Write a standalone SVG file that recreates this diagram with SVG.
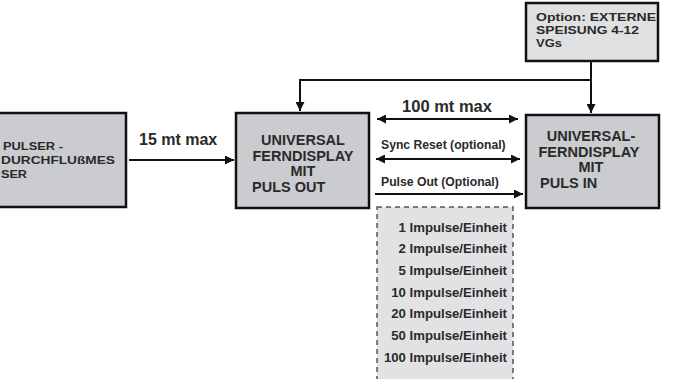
<svg xmlns="http://www.w3.org/2000/svg" width="691" height="379" viewBox="0 0 691 379">
<defs>
<marker id="ah" viewBox="0 0 10 10" refX="10" refY="5" markerWidth="9" markerHeight="9" markerUnits="userSpaceOnUse" orient="auto-start-reverse">
<path d="M0,0 L10,5 L0,10 z" fill="#111"/>
</marker>
<style>
.box{fill:#cbcccf;stroke:#111;stroke-width:2.5}
.opt{fill:#dfe0e2;stroke:#111;stroke-width:2.5}
.dash{fill:#e2e2e4;stroke:#555;stroke-width:1.5;stroke-dasharray:5,4}
text{font-family:"Liberation Sans",Arial,sans-serif;font-weight:bold;fill:#2a2a2a}
.bt{font-size:14.5px}
.sm{font-size:11.5px}
.ln{fill:none;stroke:#111;stroke-width:2}
.imp{font-size:13.2px;text-anchor:end}
</style>
</defs>
<rect width="691" height="379" fill="#ffffff"/>
<g id="pulser">
<rect class="box" x="-3" y="113" width="129" height="94"/>
<text class="sm" x="3" y="150" textLength="60" lengthAdjust="spacingAndGlyphs">PULSER -</text>
<text class="sm" x="1" y="164" textLength="114" lengthAdjust="spacingAndGlyphs">DURCHFLUßMES</text>
<text class="sm" x="1" y="178" textLength="26" lengthAdjust="spacingAndGlyphs">SER</text>
</g>
<g id="display-out">
<rect class="box" x="236" y="113" width="133" height="95"/>
<text class="bt" x="303" y="145" text-anchor="middle">UNIVERSAL</text>
<text class="bt" x="303" y="161" text-anchor="middle">FERNDISPLAY</text>
<text class="bt" x="303" y="176" text-anchor="middle">MIT</text>
<text class="bt" x="252" y="192">PULS OUT</text>
</g>
<g id="display-in">
<rect class="box" x="526" y="115" width="133" height="93"/>
<text class="bt" x="591" y="141" text-anchor="middle">UNIVERSAL-</text>
<text class="bt" x="589" y="157" text-anchor="middle">FERNDISPLAY</text>
<text class="bt" x="591" y="172" text-anchor="middle">MIT</text>
<text class="bt" x="540" y="188">PULS IN</text>
</g>
<g id="option">
<rect class="opt" x="526" y="3" width="132" height="58"/>
<text class="sm" x="536" y="21" textLength="120" lengthAdjust="spacingAndGlyphs">Option: EXTERNE</text>
<text class="sm" x="536" y="34" textLength="103" lengthAdjust="spacingAndGlyphs">SPEISUNG 4-12</text>
<text class="sm" x="536" y="47" textLength="26" lengthAdjust="spacingAndGlyphs">VGs</text>
</g>
<g id="impulse-options">
<rect class="dash" x="377" y="207" width="136" height="185"/>
<text class="imp" x="507" y="232">1 Impulse/Einheit</text>
<text class="imp" x="507" y="253">2 Impulse/Einheit</text>
<text class="imp" x="507" y="275">5 Impulse/Einheit</text>
<text class="imp" x="507" y="297">10 Impulse/Einheit</text>
<text class="imp" x="507" y="318">20 Impulse/Einheit</text>
<text class="imp" x="507" y="340">50 Impulse/Einheit</text>
<text class="imp" x="507" y="362">100 Impulse/Einheit</text>
</g>
<g id="connectors">
<line class="ln" x1="129" y1="160" x2="234" y2="160" marker-end="url(#ah)"/>
<text font-size="16" x="139" y="145">15 mt max</text>
<polyline class="ln" points="591,62 591,113" marker-end="url(#ah)"/>
<polyline class="ln" points="591,80 300,80 300,111" marker-end="url(#ah)"/>
<line class="ln" x1="377" y1="119" x2="518" y2="119" marker-start="url(#ah)" marker-end="url(#ah)"/>
<text font-size="16.5" x="447" y="112" text-anchor="middle">100 mt max</text>
<line class="ln" x1="376" y1="159" x2="520" y2="159" marker-start="url(#ah)" marker-end="url(#ah)"/>
<text font-size="12.2" x="381" y="149">Sync Reset (optional)</text>
<line class="ln" x1="375" y1="194" x2="523" y2="194" marker-end="url(#ah)"/>
<text font-size="12.2" x="381" y="186">Pulse Out (Optional)</text>
</g>
</svg>
